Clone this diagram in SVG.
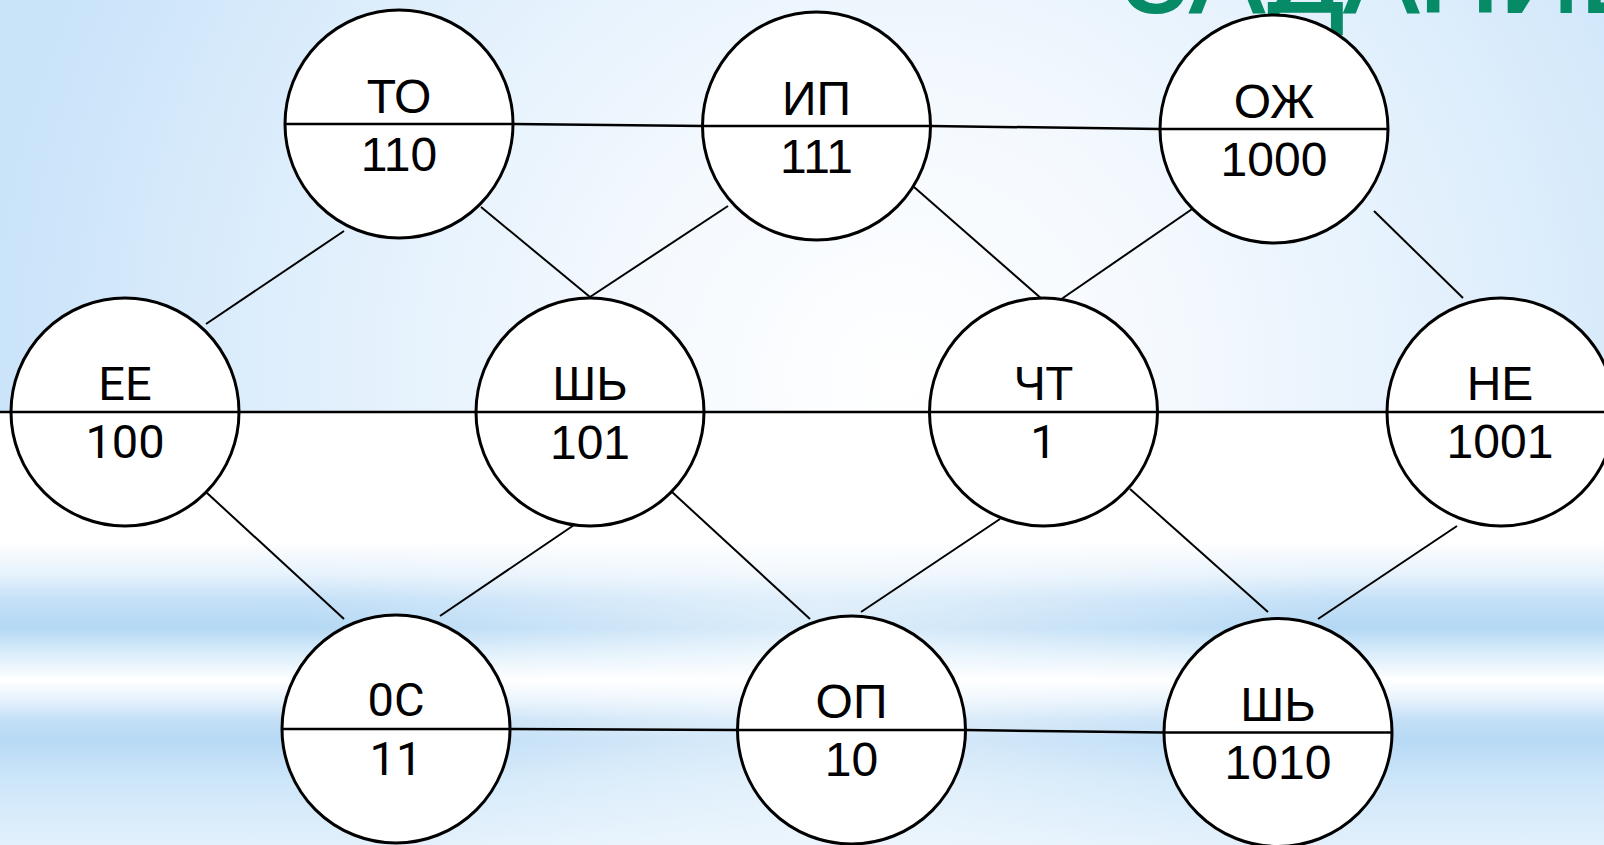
<svg xmlns="http://www.w3.org/2000/svg" width="1604" height="845" viewBox="0 0 1604 845">
<defs>
<radialGradient id="topbg" gradientUnits="userSpaceOnUse" cx="900" cy="380" r="920">
<stop offset="0" stop-color="#ffffff"/>
<stop offset="0.3" stop-color="#f4f9fe"/>
<stop offset="0.65" stop-color="#e0effc"/>
<stop offset="1" stop-color="#c9e3f9"/>
</radialGradient>
<linearGradient id="botbg" gradientUnits="userSpaceOnUse" x1="0" y1="412" x2="0" y2="845">
<stop offset="0" stop-color="#ffffff"/>
<stop offset="0.296" stop-color="#ffffff"/>
<stop offset="0.376" stop-color="#e6f2fc"/>
<stop offset="0.434" stop-color="#c4e0f7"/>
<stop offset="0.499" stop-color="#b4d8f4"/>
<stop offset="0.56" stop-color="#dceefb"/>
<stop offset="0.619" stop-color="#ffffff"/>
<stop offset="0.665" stop-color="#e6f2fc"/>
<stop offset="0.711" stop-color="#c3dff6"/>
<stop offset="0.757" stop-color="#b7d9f5"/>
<stop offset="0.85" stop-color="#cde6f9"/>
<stop offset="1" stop-color="#e2f0fc"/>
</linearGradient>
<radialGradient id="botfade" gradientUnits="userSpaceOnUse" cx="820" cy="660" r="520">
<stop offset="0" stop-color="#ffffff" stop-opacity="0.55"/>
<stop offset="1" stop-color="#ffffff" stop-opacity="0"/>
</radialGradient>
</defs>
<style>
.node circle{fill:#ffffff;stroke:#000000;stroke-width:3}
.node line{stroke:#000000;stroke-width:2.5}
.node text{font-size:48px;fill:#000000;text-anchor:middle}
.node .r{font-size:47px}
#connectors line{stroke:#000000;stroke-width:2}
#connectors .h{stroke-width:2.5}
</style>
<rect x="0" y="0" width="1604" height="413" fill="url(#topbg)"/>
<rect x="0" y="412" width="1604" height="433" fill="url(#botbg)"/>
<rect x="0" y="412" width="1604" height="433" fill="url(#botfade)"/>
<text x="1122" y="12" font-family="Liberation Sans" font-size="112" fill="#068b66" stroke="#068b66" stroke-width="2">ЗАДАНИЕ</text>
<g id="connectors">
<line class="h" x1="513" y1="124" x2="703" y2="126"/>
<line class="h" x1="930" y1="126" x2="1160" y2="129"/>
<line class="h" x1="0" y1="412" x2="1604" y2="412"/>
<line class="h" x1="510" y1="729" x2="737" y2="730"/>
<line class="h" x1="966" y1="730" x2="1164" y2="732.5"/>
<line x1="344" y1="231" x2="206" y2="324"/>
<line x1="481" y1="207" x2="590" y2="297"/>
<line x1="728" y1="206" x2="590" y2="297"/>
<line x1="914" y1="187" x2="1043" y2="300"/>
<line x1="1198" y1="205" x2="1060" y2="300"/>
<line x1="1374" y1="211" x2="1463" y2="298"/>
<line x1="207" y1="493" x2="344" y2="619"/>
<line x1="577" y1="523" x2="440" y2="616"/>
<line x1="672" y1="492" x2="810" y2="619"/>
<line x1="1000" y1="519" x2="861" y2="612"/>
<line x1="1130" y1="489" x2="1268" y2="612"/>
<line x1="1457" y1="526" x2="1318" y2="619"/>
</g>
<g id="node-to" class="node" font-family="Liberation Sans, Arial, sans-serif">
<circle cx="399" cy="124" r="114"/>
<line x1="285" y1="124" x2="513" y2="124"/>
<text x="399" y="113">ТО</text>
<text x="399" y="171">110</text>
</g>
<g id="node-ip" class="node" font-family="Liberation Sans, Arial, sans-serif">
<circle cx="816.5" cy="126" r="114"/>
<line x1="703" y1="126" x2="930" y2="126"/>
<text x="816.5" y="115">ИП</text>
<text x="816.5" y="173">111</text>
</g>
<g id="node-ozh" class="node" font-family="Liberation Sans, Arial, sans-serif">
<circle cx="1274" cy="129" r="114"/>
<line x1="1160" y1="129" x2="1388" y2="129"/>
<text x="1274" y="118">ОЖ</text>
<text x="1274" y="176">1000</text>
</g>
<g id="node-ee" class="node" font-family="Roboto, sans-serif">
<circle cx="125" cy="412" r="114"/>
<line x1="11" y1="412" x2="239" y2="412"/>
<text class="r" x="125" y="400">ЕЕ</text>
<text class="r" x="125" y="458">100</text>
</g>
<g id="node-shb1" class="node" font-family="Liberation Sans, Arial, sans-serif">
<circle cx="590" cy="412" r="114"/>
<line x1="476" y1="412" x2="704" y2="412"/>
<text x="590" y="400">ШЬ</text>
<text x="590" y="459">101</text>
</g>
<g id="node-cht" class="node" font-family="Roboto, sans-serif">
<circle cx="1043.5" cy="412" r="114"/>
<line x1="930" y1="412" x2="1157" y2="412"/>
<text class="r" x="1043.5" y="400">ЧТ</text>
<text class="r" x="1043.5" y="458">1</text>
</g>
<g id="node-ne" class="node" font-family="Liberation Sans, Arial, sans-serif">
<circle cx="1501" cy="412" r="114"/>
<line x1="1387" y1="412" x2="1604" y2="412"/>
<text x="1500" y="400">НЕ</text>
<text x="1500" y="458">1001</text>
</g>
<g id="node-os" class="node" font-family="Roboto, sans-serif">
<circle cx="396" cy="729" r="114"/>
<line x1="282" y1="729" x2="510" y2="729"/>
<text class="r" x="396" y="716">0С</text>
<text class="r" x="396" y="775">11</text>
</g>
<g id="node-op" class="node" font-family="Liberation Sans, Arial, sans-serif">
<circle cx="851.5" cy="730" r="114"/>
<line x1="737" y1="730" x2="966" y2="730"/>
<text x="851.5" y="718">ОП</text>
<text x="851.5" y="776">10</text>
</g>
<g id="node-shb2" class="node" font-family="Liberation Sans, Arial, sans-serif">
<circle cx="1278" cy="732.5" r="114"/>
<line x1="1164" y1="732.5" x2="1392" y2="732.5"/>
<text x="1278" y="721">ШЬ</text>
<text x="1278" y="779">1010</text>
</g>
</svg>
